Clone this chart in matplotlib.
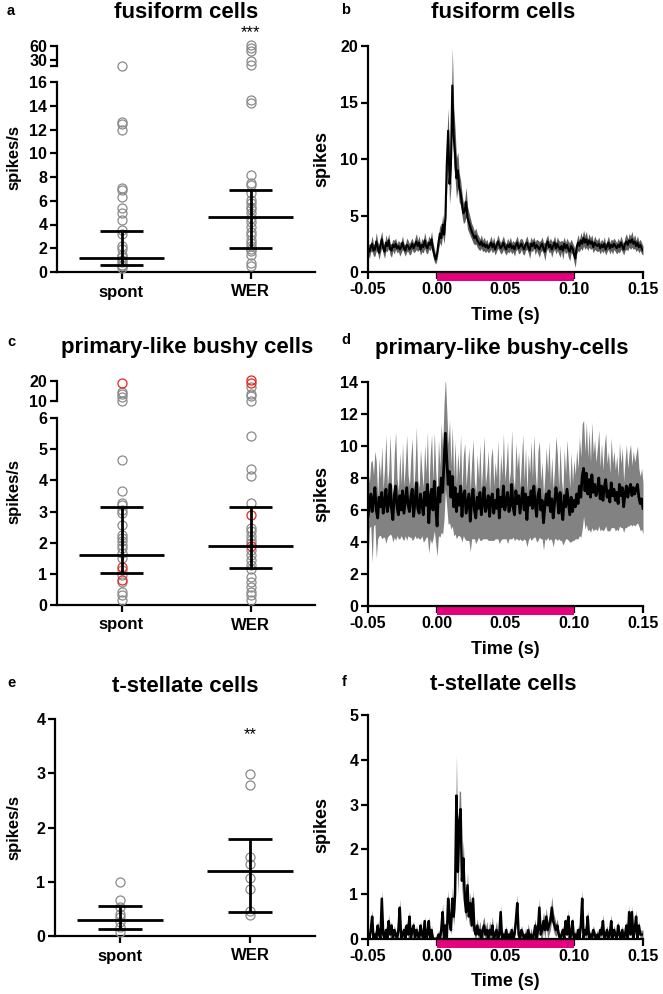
import numpy as np
import matplotlib
matplotlib.use('Agg')
import matplotlib.pyplot as plt
from matplotlib.patches import Rectangle

plt.rcParams['font.family'] = ['Liberation Sans', 'DejaVu Sans']
plt.rcParams['font.weight'] = 'bold'
plt.rcParams['axes.unicode_minus'] = False
plt.rcParams['axes.linewidth'] = 1.6

groups = ['spont', 'WER']

# ---- scatter data (spikes/s); *_hi = points above the axis break
fus_spont_hi = [17.0]
fus_spont_lo = [12.64, 12.45, 12.0, 7.1, 6.9, 6.35, 5.4, 4.95, 4.4, 3.55, 3.2,
                2.15, 1.9, 1.45, 1.23, 1.03, 0.81, 0.62, 0.48, 0.34]
fus_wer_hi = [62, 56, 50, 27, 19]
fus_wer_lo = [14.46, 14.24, 8.17, 7.52, 7.33, 6.63, 6.07, 5.79, 5.51, 5.29, 4.95,
              4.53, 4.25, 3.83, 3.41, 3.13, 2.71, 2.43, 2.15, 1.93, 1.73, 1.45,
              0.76, 0.48]
fus_stats = [(1.15, 0.59, 3.47), (4.6, 2.05, 6.9)]  # median, q1, q3

bus_spont_hi = [14.7, 13.5, 11.8, 10.2]
bus_spont_hi_red = [19.2]
bus_spont_lo = [4.66, 3.66, 3.27, 3.21, 3.05, 2.95, 2.57, 2.25, 2.14, 2.04, 1.93,
                1.82, 1.66, 1.5, 1.12, 0.96, 0.75, 0.43, 0.32, 0.16]
bus_spont_lo_red = [1.23, 0.8]
bus_wer_hi = [17.0, 13.6, 12.4, 9.8]
bus_wer_hi_red = [20.3, 18.8]
bus_wer_lo = [5.43, 4.36, 4.13, 3.27, 2.46, 2.36, 2.2, 2.09, 1.98, 1.77, 1.6,
              1.45, 1.29, 1.15, 0.91, 0.75, 0.59, 0.43, 0.32, 0.16]
bus_wer_lo_red = [2.9, 1.88]
bus_stats = [(1.59, 1.02, 3.16), (1.9, 1.18, 3.14)]

ste_spont = [1.0, 0.66, 0.54, 0.41, 0.35, 0.26, 0.17, 0.07]
ste_wer = [2.99, 2.79, 1.46, 1.33, 1.06, 0.86, 0.47, 0.38]
ste_stats = [(0.29, 0.12, 0.55), (1.2, 0.44, 1.79)]

# ---- PSTH data, 1 ms bins from -50 ms to +149 ms (mean, sem)
fus_mean = [
    2.1, 1.8, 2.2, 2.5, 1.9, 2.0, 2.7, 2.2, 1.7, 2.4,
    2.9, 2.1, 1.8, 2.6, 2.3, 2.8, 2.0, 1.9, 2.4, 2.2,
    2.5, 2.1, 2.3, 2.0, 2.2, 2.6, 2.1, 1.9, 2.4, 2.3,
    2.0, 2.2, 2.5, 2.1, 2.4, 2.7, 2.3, 2.6, 2.0, 2.4,
    2.2, 2.8, 2.3, 2.1, 2.6, 2.4, 2.9, 2.0, 1.5, 1.1,
    1.6, 2.6, 3.4, 3.0, 4.2, 3.3, 4.8, 9.5, 12.5, 7.8,
    9.5, 16.5, 12.0, 10.5, 8.3, 9.0, 7.5, 7.0, 6.0, 5.2,
    5.4, 6.2, 4.8, 4.4, 4.0, 3.6, 3.3, 3.0, 3.2, 2.8,
    2.6, 2.4, 2.7, 2.3, 2.5, 2.2, 2.4, 2.1, 2.3, 2.6,
    2.2, 2.5, 2.0, 2.3, 2.7, 2.4, 2.1, 2.3, 2.6, 2.2,
    2.0, 2.4, 2.2, 2.5, 2.1, 2.3, 2.0, 2.4, 2.6, 2.1,
    2.3, 2.5, 2.2, 2.0, 2.4, 2.6, 2.2, 1.9, 2.5, 2.3,
    2.6, 2.1, 2.4, 2.2, 2.0, 2.3, 2.5, 2.1, 1.8, 2.4,
    2.7, 2.2, 2.4, 2.0, 2.3, 2.6, 2.1, 2.5, 2.2, 2.0,
    2.3, 1.9, 2.5, 2.1, 2.4, 2.0, 1.8, 2.3, 2.1, 1.6,
    1.2, 2.2, 2.6, 2.3, 2.8, 2.5, 3.0, 2.6, 2.9, 2.4,
    2.8, 2.5, 2.7, 2.2, 2.6, 2.4, 2.3, 2.5, 2.1, 2.4,
    2.2, 2.5, 2.0, 2.3, 2.6, 2.1, 2.4, 2.2, 2.5, 2.3,
    2.1, 2.4, 2.2, 2.6, 2.3, 2.0, 2.5, 2.7, 2.4, 2.8,
    2.6, 2.9, 2.5, 2.7, 2.3, 2.6, 2.2, 2.4, 2.1, 1.9]
fus_sem = [
    0.5, 0.6, 0.4, 0.7, 0.5, 0.6, 0.8, 0.5, 0.6, 0.7,
    0.7, 0.5, 0.6, 0.7, 0.5, 0.6, 0.5, 0.6, 0.5, 0.6,
    0.5, 0.4, 0.5, 0.6, 0.5, 0.6, 0.4, 0.5, 0.6, 0.5,
    0.5, 0.6, 0.5, 0.4, 0.6, 0.7, 0.5, 0.6, 0.5, 0.6,
    0.5, 0.7, 0.6, 0.5, 0.6, 0.5, 0.7, 0.6, 0.6, 0.4,
    0.5, 0.6, 0.8, 0.7, 0.9, 0.8, 1.1, 2.2, 2.0, 1.8,
    2.0, 3.4, 2.6, 2.2, 1.8, 1.6, 1.3, 1.1, 1.0, 0.9,
    1.0, 1.3, 1.0, 0.9, 0.8, 0.7, 0.7, 0.6, 0.7, 0.6,
    0.6, 0.5, 0.6, 0.5, 0.6, 0.5, 0.5, 0.4, 0.5, 0.6,
    0.5, 0.6, 0.5, 0.5, 0.6, 0.5, 0.5, 0.6, 0.6, 0.5,
    0.5, 0.6, 0.5, 0.6, 0.5, 0.5, 0.6, 0.5, 0.6, 0.5,
    0.6, 0.5, 0.6, 0.5, 0.5, 0.6, 0.5, 0.7, 0.6, 0.5,
    0.5, 0.6, 0.5, 0.6, 0.7, 0.5, 0.6, 0.5, 0.8, 0.6,
    0.6, 0.5, 0.6, 0.7, 0.5, 0.6, 0.5, 0.6, 0.6, 0.7,
    0.5, 0.8, 0.6, 0.5, 0.6, 0.7, 0.8, 0.6, 0.5, 0.7,
    0.8, 0.6, 0.7, 0.5, 0.7, 0.6, 0.7, 0.6, 0.7, 0.5,
    0.6, 0.5, 0.6, 0.5, 0.6, 0.5, 0.5, 0.6, 0.5, 0.5,
    0.5, 0.6, 0.5, 0.5, 0.6, 0.5, 0.5, 0.6, 0.5, 0.5,
    0.5, 0.6, 0.5, 0.6, 0.5, 0.5, 0.6, 0.7, 0.5, 0.6,
    0.6, 0.7, 0.5, 0.6, 0.5, 0.6, 0.5, 0.5, 0.5, 0.4]

bus_mean = [
    5.6, 6.3, 7.0, 5.9, 6.6, 7.4, 6.0, 5.5, 6.8, 6.2,
    7.1, 5.8, 6.5, 7.3, 5.9, 6.4, 7.6, 6.1, 5.4, 6.9,
    7.5, 6.2, 5.7, 6.9, 6.0, 7.2, 5.8, 6.6, 7.4, 6.3,
    5.9, 6.8, 7.3, 5.6, 6.5, 7.7, 6.1, 5.8, 7.0, 6.4,
    5.7, 7.1, 6.3, 7.6, 5.2, 6.8, 7.3, 6.0, 7.8, 6.2,
    5.0, 7.4, 6.5, 8.0, 7.1, 9.0, 10.8, 9.2, 7.6, 8.4,
    6.8, 8.1, 6.2, 7.4, 5.9, 7.0, 6.3, 7.5, 5.6, 6.9,
    7.2, 5.8, 6.4, 7.0, 5.3, 6.6, 7.3, 6.0, 5.5, 6.8,
    6.1, 7.1, 5.7, 6.5, 7.4, 5.9, 6.3, 6.9, 5.6, 6.7,
    7.0, 5.8, 6.6, 6.1, 7.3, 5.5, 6.8, 6.2, 7.5, 6.0,
    6.5, 7.1, 5.9, 6.3, 7.6, 6.2, 5.7, 7.2, 6.4, 6.9,
    5.8, 6.6, 7.4, 6.0, 7.0, 5.4, 6.8, 6.3, 7.2, 6.1,
    7.5, 6.4, 5.6, 6.9, 7.3, 6.0, 6.6, 5.2, 6.2, 7.0,
    6.3, 7.2, 5.9, 6.7, 5.5, 6.4, 7.4, 6.8, 5.8, 7.1,
    6.0, 5.4, 6.9, 6.2, 7.3, 6.5, 5.7, 6.8, 5.9, 6.6,
    6.2, 7.0, 6.4, 7.5, 6.8, 8.1, 8.6, 7.2, 8.3, 7.0,
    7.9, 6.8, 8.2, 7.1, 7.6, 6.9, 7.3, 8.0, 6.7, 7.5,
    6.6, 7.4, 7.9, 6.8, 7.2, 6.5, 7.7, 6.9, 7.3, 6.6,
    7.1, 6.4, 7.6, 6.9, 7.4, 6.2, 7.0, 7.5, 6.8, 7.3,
    7.6, 6.9, 7.4, 7.0, 7.3, 7.6, 6.8, 6.4, 6.7, 6.1]
bus_sem = [
    2.8, 1.4, 2.0, 3.2, 1.6, 2.3, 3.0, 1.3, 2.4, 1.8,
    2.9, 1.5, 2.2, 3.4, 1.6, 2.0, 3.1, 1.7, 1.4, 2.6,
    3.4, 1.8, 1.5, 2.7, 1.6, 3.0, 1.7, 2.2, 3.3, 1.9,
    1.6, 2.5, 3.2, 1.4, 2.1, 3.5, 1.8, 1.6, 2.8, 2.0,
    1.7, 3.0, 2.0, 3.3, 1.9, 2.6, 3.4, 1.8, 3.1, 2.3,
    1.9, 3.0, 2.2, 3.4, 2.6, 3.6, 3.5, 3.0, 2.5, 3.2,
    2.0, 3.1, 1.8, 2.9, 1.7, 2.6, 1.9, 3.2, 1.6, 2.5,
    3.0, 1.7, 2.3, 2.9, 1.9, 2.4, 3.1, 1.8, 1.6, 2.7,
    1.8, 3.0, 1.6, 2.3, 3.2, 1.7, 2.1, 2.8, 1.5, 2.6,
    2.9, 1.7, 2.4, 1.9, 3.1, 1.6, 2.7, 2.0, 3.3, 1.8,
    2.3, 3.2, 1.7, 2.1, 3.4, 1.9, 1.6, 3.0, 2.2, 2.8,
    1.6, 2.5, 3.3, 1.8, 2.9, 1.7, 2.7, 2.0, 3.1, 1.9,
    3.2, 2.1, 1.6, 2.8, 3.0, 1.8, 2.4, 1.7, 2.0, 2.9,
    2.0, 3.1, 1.7, 2.6, 1.8, 2.2, 3.2, 2.7, 1.6, 3.0,
    1.9, 1.6, 2.9, 2.0, 3.1, 2.4, 1.7, 2.8, 1.8, 2.5,
    2.0, 2.8, 2.2, 3.1, 2.5, 3.3, 3.0, 2.4, 3.2, 2.3,
    3.1, 2.2, 3.3, 2.4, 2.8, 2.1, 2.6, 3.0, 2.0, 2.7,
    1.9, 2.6, 2.9, 2.1, 2.5, 1.8, 2.8, 2.0, 2.4, 1.9,
    2.3, 1.7, 2.6, 2.0, 2.5, 1.6, 2.1, 2.6, 1.8, 2.3,
    2.5, 1.9, 2.3, 2.0, 2.2, 2.4, 1.8, 1.7, 1.9, 1.6]

ste_mean = [
    0.1, 0.0, 0.2, 0.5, 0.0, 0.1, 0.0, 0.3, 0.1, 0.0,
    0.9, 0.1, 0.0, 0.2, 0.0, 0.4, 0.1, 0.3, 0.0, 0.2,
    0.1, 0.0, 0.2, 0.7, 0.0, 0.1, 0.2, 0.0, 0.3, 0.1,
    0.5, 0.0, 0.2, 0.3, 0.0, 0.2, 0.1, 0.0, 0.3, 0.1,
    0.0, 0.4, 0.0, 0.1, 0.4, 0.0, 0.2, 0.0, 0.0, 0.0,
    0.0, 0.1, 0.0, 0.2, 0.6, 0.0, 0.3, 0.0, 0.9, 0.4,
    0.2, 0.9, 0.5, 1.0, 3.2, 1.5, 2.6, 2.9, 1.3, 1.8,
    0.9, 0.6, 1.2, 0.5, 0.8, 0.3, 0.9, 0.2, 0.1, 0.3,
    0.1, 0.2, 0.0, 0.2, 0.3, 0.1, 0.2, 0.0, 0.2, 0.1,
    0.3, 0.0, 0.1, 0.2, 0.0, 0.1, 0.6, 0.0, 0.1, 0.0,
    0.2, 0.0, 0.1, 0.0, 0.2, 0.0, 0.1, 0.4, 0.8, 0.1,
    0.0, 0.2, 0.1, 0.0, 0.1, 0.0, 0.2, 0.0, 0.1, 0.0,
    0.1, 0.3, 0.0, 0.2, 0.7, 0.1, 0.2, 0.4, 0.2, 0.5,
    0.2, 0.3, 0.4, 0.7, 0.4, 0.3, 0.2, 0.3, 0.1, 0.0,
    0.1, 0.2, 0.0, 0.4, 0.1, 0.5, 0.0, 0.1, 0.4, 0.0,
    0.1, 0.0, 0.2, 0.0, 0.3, 0.9, 0.0, 0.2, 0.1, 0.5,
    0.0, 0.1, 0.0, 0.2, 0.1, 0.0, 0.1, 0.0, 0.2, 0.1,
    0.4, 0.0, 0.1, 0.2, 0.0, 0.1, 0.4, 0.0, 0.2, 0.1,
    0.0, 0.3, 0.1, 0.0, 0.2, 0.0, 0.1, 0.3, 0.0, 0.6,
    0.1, 0.6, 0.0, 0.2, 0.5, 0.0, 0.3, 0.1, 0.1, 0.1]
ste_sem = [
    0.1, 0.05, 0.1, 0.15, 0.05, 0.1, 0.05, 0.1, 0.1, 0.05,
    0.2, 0.1, 0.05, 0.1, 0.05, 0.15, 0.1, 0.1, 0.05, 0.1,
    0.1, 0.05, 0.1, 0.2, 0.05, 0.1, 0.1, 0.05, 0.1, 0.1,
    0.15, 0.05, 0.1, 0.1, 0.05, 0.1, 0.1, 0.05, 0.1, 0.1,
    0.05, 0.1, 0.05, 0.1, 0.1, 0.05, 0.1, 0.05, 0.05, 0.05,
    0.05, 0.1, 0.05, 0.1, 0.2, 0.05, 0.1, 0.05, 0.2, 0.15,
    0.1, 0.25, 0.2, 0.3, 0.9, 0.5, 0.7, 0.4, 0.35, 0.4,
    0.3, 0.2, 0.3, 0.2, 0.25, 0.15, 0.2, 0.15, 0.1, 0.15,
    0.15, 0.2, 0.15, 0.2, 0.2, 0.15, 0.2, 0.15, 0.2, 0.15,
    0.2, 0.15, 0.15, 0.2, 0.1, 0.1, 0.15, 0.05, 0.1, 0.05,
    0.1, 0.05, 0.1, 0.05, 0.1, 0.05, 0.1, 0.1, 0.2, 0.1,
    0.05, 0.1, 0.1, 0.05, 0.15, 0.1, 0.15, 0.1, 0.15, 0.1,
    0.15, 0.15, 0.1, 0.15, 0.2, 0.15, 0.2, 0.2, 0.2, 0.2,
    0.2, 0.2, 0.2, 0.25, 0.2, 0.2, 0.15, 0.15, 0.1, 0.05,
    0.1, 0.1, 0.05, 0.1, 0.05, 0.15, 0.05, 0.1, 0.1, 0.05,
    0.1, 0.05, 0.1, 0.05, 0.1, 0.2, 0.05, 0.1, 0.1, 0.15,
    0.1, 0.1, 0.1, 0.1, 0.1, 0.1, 0.1, 0.1, 0.1, 0.1,
    0.15, 0.1, 0.1, 0.1, 0.1, 0.1, 0.15, 0.1, 0.1, 0.1,
    0.1, 0.1, 0.1, 0.1, 0.1, 0.1, 0.1, 0.1, 0.1, 0.15,
    0.1, 0.15, 0.1, 0.1, 0.15, 0.1, 0.1, 0.1, 0.1, 0.1]

time_ticks = [-0.05, 0.0, 0.05, 0.10, 0.15]
stim_on, stim_off = 0.0, 0.10

W, H = 663, 994
fig = plt.figure(figsize=(W / 100, H / 100), dpi=100)


def box(x0, y0, x1, y1):
    # pixel box (top-left origin) -> figure fraction
    return [x0 / W, 1 - y1 / H, (x1 - x0) / W, (y1 - y0) / H]


def ftext(x, y, s, **kw):
    fig.text(x / W, 1 - y / H, s, ha='center', va='center', **kw)


def style(ax):
    for s in ['top', 'right']:
        ax.spines[s].set_visible(False)
    ax.tick_params(direction='out', length=5, width=1.6, labelsize=11.5, pad=2)


def dots(ax, pos, vals, color='#8a8a8a'):
    ax.plot(np.full(len(vals), pos), vals, 'o', mfc='none', mec=color,
            ms=6.5, mew=0.9, clip_on=False, zorder=3)


def summary(ax, pos, stats):
    med, q1, q3 = stats
    ax.hlines(med, pos - 0.33, pos + 0.33, color='k', lw=2, zorder=4)
    ax.hlines([q1, q3], pos - 0.17, pos + 0.17, color='k', lw=2, zorder=4)
    ax.vlines(pos, q1, q3, color='k', lw=2, zorder=4)


def cat_axis(ax, ymax, yticks):
    style(ax)
    ax.set_xlim(-0.5, 1.5)
    ax.set_ylim(0, ymax)
    ax.set_yticks(yticks)
    ax.set_xticks([0, 1])
    ax.set_xticklabels(groups, fontsize=12)
    ax.tick_params(axis='x', pad=4)


def top_axis(ax, lo, hi, ticks, labels):
    style(ax)
    ax.spines['bottom'].set_visible(False)
    ax.set_xlim(-0.5, 1.5)
    ax.set_xticks([])
    ax.set_ylim(lo, hi)
    ax.set_yticks(ticks)
    ax.set_yticklabels(labels)
    ax.patch.set_alpha(0)


def psth(ax, mean, sem, band, ymax, yticks, lw):
    mean = np.array(mean)
    sem = np.array(sem)
    t = np.linspace(-0.05, 0.15, len(mean))
    ax.fill_between(t, mean - sem, mean + sem, color=band, lw=0)
    ax.plot(t, mean, color='k', lw=lw)
    style(ax)
    ax.set_xlim(-0.05, 0.15)
    ax.set_ylim(0, ymax)
    ax.set_yticks(yticks)
    ax.set_xticks(time_ticks)
    ax.set_xticklabels(['%.2f' % v for v in time_ticks])
    h = 9 / (ax.get_position().height * H)
    ax.add_patch(Rectangle((stim_on, -h), stim_off - stim_on, h,
                           transform=ax.get_xaxis_transform(),
                           color='#e5007d', lw=0, clip_on=False, zorder=2))


# ---- a: fusiform scatter
axa = fig.add_axes(box(57, 82, 315, 272))
cat_axis(axa, 16, range(0, 17, 2))
axa_hi = fig.add_axes(box(57, 46, 315, 66))
top_axis(axa_hi, 16, 60, [16, 30, 60], ['', '30', '60'])
dots(axa, 0, fus_spont_lo)
dots(axa, 1, fus_wer_lo)
dots(axa_hi, 0, fus_spont_hi)
dots(axa_hi, 1, fus_wer_hi)
for i, st in enumerate(fus_stats):
    summary(axa, i, st)

# ---- c: bushy scatter
axc = fig.add_axes(box(57, 418, 315, 605))
cat_axis(axc, 6, range(0, 7))
axc_hi = fig.add_axes(box(57, 381, 315, 401))
top_axis(axc_hi, 10, 20, [10, 20], ['10', '20'])
dots(axc, 0, bus_spont_lo)
dots(axc, 0, bus_spont_lo_red, '#e8251f')
dots(axc, 1, bus_wer_lo)
dots(axc, 1, bus_wer_lo_red, '#e8251f')
dots(axc_hi, 0, bus_spont_hi)
dots(axc_hi, 0, bus_spont_hi_red, '#e8251f')
dots(axc_hi, 1, bus_wer_hi)
dots(axc_hi, 1, bus_wer_hi_red, '#e8251f')
for i, st in enumerate(bus_stats):
    summary(axc, i, st)

# ---- e: t-stellate scatter
axe = fig.add_axes(box(55, 719, 315, 936))
cat_axis(axe, 4, range(0, 5))
dots(axe, 0, ste_spont)
dots(axe, 1, ste_wer)
for i, st in enumerate(ste_stats):
    summary(axe, i, st)

# ---- b, d, f: PSTHs
axb = fig.add_axes(box(368, 46, 643, 272))
psth(axb, fus_mean, fus_sem, '#5e5e5e', 20, range(0, 21, 5), 1.5)
axd = fig.add_axes(box(368, 382, 643, 606))
psth(axd, bus_mean, bus_sem, '#828282', 14, range(0, 15, 2), 2.0)
axf = fig.add_axes(box(368, 715, 643, 939))
psth(axf, ste_mean, ste_sem, '#7a7a7a', 5, range(0, 6), 1.8)

# ---- text
title_kw = dict(fontsize=16, fontweight='bold')
ftext(186, 13, 'fusiform cells', **title_kw)
ftext(503, 13, 'fusiform cells', **title_kw)
ftext(187, 347, 'primary-like bushy cells', **title_kw)
ftext(502, 348, 'primary-like bushy-cells', **title_kw)
ftext(185, 687, 't-stellate cells', **title_kw)
ftext(503, 685, 't-stellate cells', **title_kw)

for x, y, s in [(11, 11, 'a'), (346, 10, 'b'), (11, 342, 'c'),
                (346, 340, 'd'), (11, 683, 'e'), (344, 682, 'f')]:
    ftext(x, y, s, fontsize=10.5, fontweight='bold')

for y in [157, 492, 827]:
    ftext(14, y, 'spikes/s', fontsize=12, rotation=90)
for y in [159, 494, 825]:
    ftext(322, y, 'spikes', fontsize=13, rotation=90)
for y in [315, 649, 982]:
    ftext(505, y, 'Time (s)', fontsize=13)

ftext(250, 33, '***', fontsize=12, fontweight='normal')
ftext(250, 735, '**', fontsize=12, fontweight='normal')

fig.savefig('out.png', dpi=100)
